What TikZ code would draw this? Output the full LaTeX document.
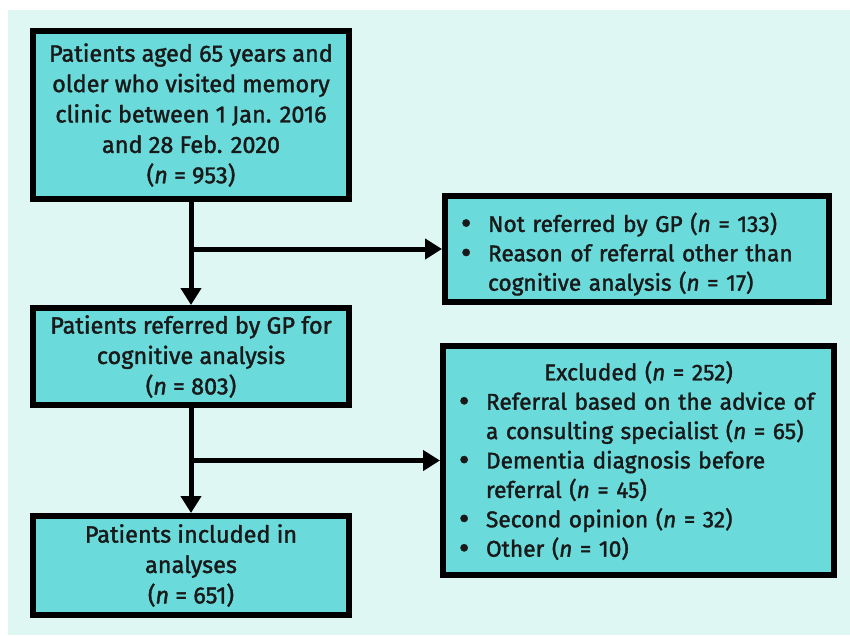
\documentclass[tikz,border=0pt]{standalone}
\usepackage{fontspec}
\setmainfont{Fira Sans}[UprightFeatures={FakeBold=1.6},ItalicFeatures={FakeBold=1.6}]
\usetikzlibrary{arrows.meta}
\definecolor{boxfill}{HTML}{6BDADB}
\definecolor{panel}{HTML}{DFF7F3}
\tikzset{flowbox/.style={draw=black,line width=6pt,fill=boxfill,text=black!90,inner sep=0pt,font=\fontsize{23.5}{30.4}\selectfont},
listbox/.style={flowbox,inner xsep=8pt,font=\fontsize{22.7}{29.4}\selectfont},
flowline/.style={line width=5pt,-{Triangle[length=17pt,width=20pt]}}}
\newcommand{\nn}[1]{(\textit{n} = #1)}
\newcommand{\bitem}{\par\noindent\hangindent=35pt\hangafter=1\makebox[35pt][l]{\hspace{8pt}\raisebox{-2pt}[0pt][0pt]{\scalebox{1.4}{\textbullet}}}}
\newcommand{\nl}{\break}

\begin{document}
\begin{tikzpicture}[x=1pt,y=-1pt]
\useasboundingbox (0,0) rectangle (850,635);
\fill[panel] (8,10) rectangle (850,635);
\node[flowbox,minimum width=316,minimum height=168,align=center] (first) at (191,115) {Patients aged 65 years and\\older who visited memory\\clinic between 1 Jan. 2016\\and 28 Feb. 2020\\\nn{953}};
\node[flowbox,minimum width=316,minimum height=97,align=center] (referred) at (191,356.5) {Patients referred by GP for\\cognitive analysis\\\nn{803}};
\node[flowbox,minimum width=316,minimum height=99,align=center] (included) at (191,565.5) {Patients included in\\analyses\\\nn{651}};
\node[listbox,minimum width=384,minimum height=106,text width=368] (notref) at (637,249) {\raggedright\bitem Not referred by GP \nn{133}\bitem Reason of referral other than\nl cognitive analysis \nn{17}\par};
\node[listbox,minimum width=391,minimum height=229,text width=375] (excluded) at (638.5,460.5) {{\centering Excluded \nn{252}\par}\raggedright\bitem Referral based on the advice of\nl a consulting specialist \nn{65}\bitem Dementia diagnosis before\nl referral \nn{45}\bitem Second opinion \nn{32}\bitem Other \nn{10}\par};
\draw[flowline] (first) -- (referred);
\draw[flowline] (first.south |- notref.west) -- (notref.west);
\draw[flowline] (referred) -- (included);
\draw[flowline] (referred.south |- excluded.west) -- (excluded.west);
\end{tikzpicture}
\end{document}
